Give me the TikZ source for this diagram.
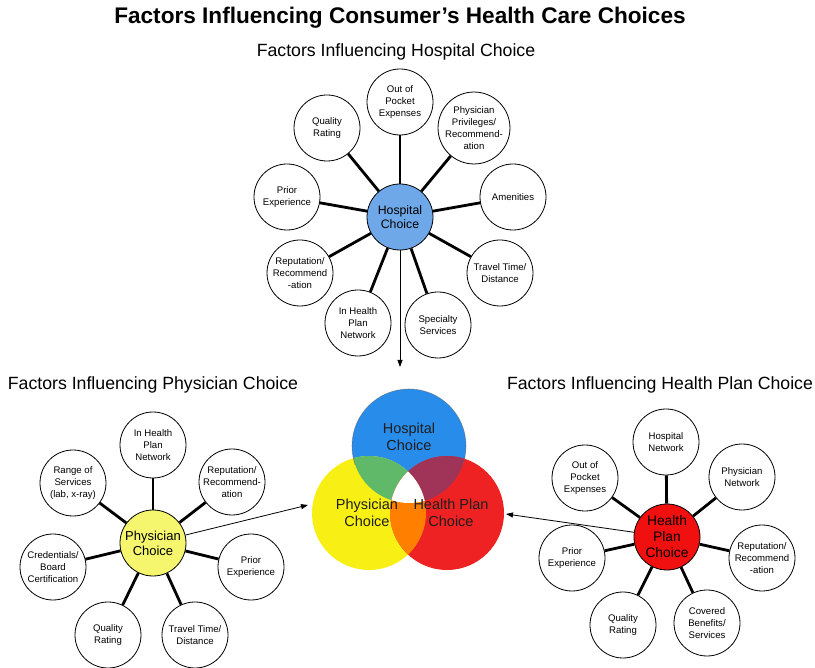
\documentclass[tikz,border=0pt]{standalone}
\usepackage{fontspec}
\setmainfont{Liberation Sans}
\usetikzlibrary{arrows.meta}

\definecolor{hubblue}{RGB}{111,168,232}
\definecolor{hubyellow}{RGB}{245,245,110}
\definecolor{hubred}{RGB}{240,16,16}
\definecolor{vblue}{RGB}{40,140,235}
\definecolor{vyellow}{RGB}{248,240,20}
\definecolor{vred}{RGB}{238,34,34}
\definecolor{vgreen}{RGB}{95,185,105}
\definecolor{vpurple}{RGB}{160,52,88}
\definecolor{vorange}{RGB}{255,128,0}
\definecolor{vtext}{RGB}{30,30,30}

\tikzset{
  factor/.style={circle, draw=black, line width=0.8pt, fill=white,
    minimum size=66pt, inner sep=0pt, align=center,
    font=\fontsize{9.6}{12}\selectfont},
  hub/.style={circle, draw=black, line width=0.8pt,
    minimum size=66pt, inner sep=0pt, align=center},
  spoke/.style={line width=2.8pt, black},
  pointer/.style={line width=0.8pt, black, -{Triangle[length=7pt,width=5pt]}},
  heading/.style={font=\fontsize{17.7}{20}\selectfont},
  venntext/.style={align=center, text=vtext, font=\fontsize{14.5}{17}\selectfont}
}

\begin{document}
\begin{tikzpicture}[x=1pt, y=-1pt]
\useasboundingbox (0,0) rectangle (815,668);

% titles
\node (title) at (400,18) {\fontsize{22.6}{26}\selectfont\bfseries Factors Influencing Consumer’s Health Care Choices};
\node[heading] (hospHead) at (396,52) {Factors Influencing Hospital Choice};
\node[heading] (physHead) at (153,385) {Factors Influencing Physician Choice};
\node[heading] (planHead) at (660,385) {Factors Influencing Health Plan Choice};

% ---------- hospital choice cluster ----------
\node[hub, fill=hubblue, font=\fontsize{12.3}{14.3}\selectfont] (hosp) at (400,217) {Hospital\\Choice};
\node[factor] (h1) at (400,102) {Out of\\Pocket\\Expenses};
\node[factor] (h2) at (327,128) {Quality\\Rating};
\node[factor] (h3) at (474,128) {Physician\\Privileges/\\Recommend-\\ation};
\node[factor] (h4) at (287,197) {Prior\\Experience};
\node[factor] (h5) at (513,197) {Amenities};
\node[factor] (h6) at (300,273) {Reputation/\\Recommend\\-ation};
\node[factor] (h7) at (500,273) {Travel Time/\\Distance};
\node[factor] (h8) at (358,323) {In Health\\Plan\\Network};
\node[factor] (h9) at (438,325) {Specialty\\Services};
\foreach \s in {h1,h2,h3,h4,h5,h6,h7,h8,h9}
  \draw[spoke] (hosp) -- (\s);

% ---------- physician choice cluster ----------
\node[hub, fill=hubyellow, font=\fontsize{13}{15}\selectfont] (phys) at (153,543) {Physician\\Choice};
\node[factor] (p1) at (153,445) {In Health\\Plan\\Network};
\node[factor] (p2) at (73,483) {Range of\\Services\\(lab, x-ray)};
\node[factor] (p3) at (232,482) {Reputation/\\Recommend-\\ation};
\node[factor] (p4) at (53,567) {Credentials/\\Board\\Certification};
\node[factor] (p5) at (251,567) {Prior\\Experience};
\node[factor] (p6) at (108,635) {Quality\\Rating};
\node[factor] (p7) at (195,635) {Travel Time/\\Distance};
\foreach \s in {p1,p2,p3,p4,p5,p6,p7}
  \draw[spoke] (phys) -- (\s);

% ---------- health plan choice cluster ----------
\node[hub, fill=hubred, font=\fontsize{13.8}{16}\selectfont] (plan) at (667,537) {Health\\Plan\\Choice};
\node[factor] (q1) at (666,442) {Hospital\\Network};
\node[factor] (q2) at (585,478) {Out of\\Pocket\\Expenses};
\node[factor] (q3) at (742,477) {Physician\\Network};
\node[factor] (q4) at (572,558) {Prior\\Experience};
\node[factor] (q5) at (762,558) {Reputation/\\Recommend\\-ation};
\node[factor] (q6) at (623,625) {Quality\\Rating};
\node[factor] (q7) at (707,623) {Covered\\Benefits/\\Services};
\foreach \s in {q1,q2,q3,q4,q5,q6,q7}
  \draw[spoke] (plan) -- (\s);

% ---------- overlapping choice circles ----------
\def\rad{57}
\coordinate (cB) at (409,446);
\coordinate (cY) at (369,513);
\coordinate (cR) at (447,513);
\fill[vblue] (cB) circle (\rad);
\fill[vyellow] (cY) circle (\rad);
\fill[vred] (cR) circle (\rad);
\begin{scope}
  \clip (cB) circle (\rad);
  \fill[vgreen] (cY) circle (\rad);
  \fill[vpurple] (cR) circle (\rad);
\end{scope}
\begin{scope}
  \clip (cY) circle (\rad);
  \fill[vorange] (cR) circle (\rad);
  \clip (cR) circle (\rad);
  \fill[white] (cB) circle (\rad);
\end{scope}
\begin{scope}
  \clip (409,300) rectangle (520,465) (300,300) rectangle (409,465);
  \draw[black!60, line width=0.6pt, opacity=0.6] (cB) circle (\rad);
\end{scope}

\node[venntext] (vHosp) at (409,437) {Hospital\\Choice};
\node[venntext] (vPhys) at (367,513) {Physician\\Choice};
\node[venntext] (vPlan) at (451,513) {Health Plan\\Choice};

% influence arrows into the choice circles
\coordinate (tipHosp) at (400,367);
\coordinate (tipPhys) at (308,505);
\coordinate (tipPlan) at (506,514);
\draw[pointer] (hosp) -- (tipHosp);
\draw[pointer] (phys) -- (tipPhys);
\draw[pointer] (plan) -- (tipPlan);
\end{tikzpicture}
\end{document}
